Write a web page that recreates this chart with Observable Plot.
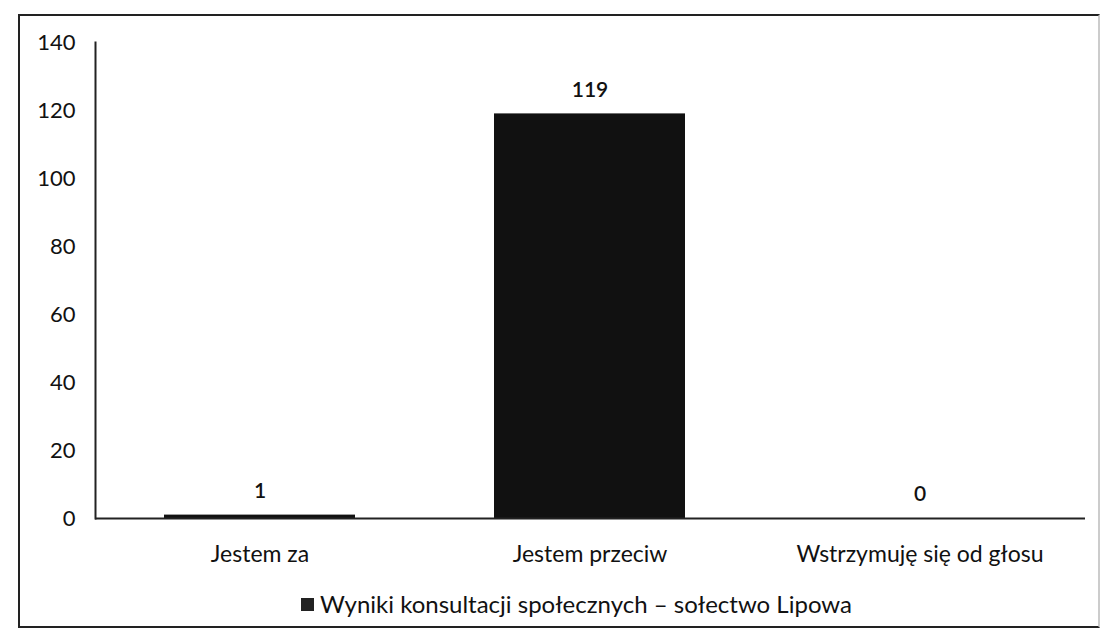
<!DOCTYPE html>
<html>
<head>
<meta charset="utf-8">
<script src="https://cdn.jsdelivr.net/npm/d3@7"></script>
<script src="https://cdn.jsdelivr.net/npm/@observablehq/plot@0.6"></script>
<style>
  html, body { margin: 0; padding: 0; background: #fff; }
  #wrap { position: relative; width: 1103px; height: 641px; font-family: Lato, "Open Sans", sans-serif; color: #111; }
  #box { position: absolute; left: 18px; top: 14px; width: 1082px; height: 614px; border: 2px solid #222; border-right-color: #ccc; box-sizing: border-box; }
  #chart { position: absolute; left: 0; top: 0; }
  #legend { position: absolute; left: 0; width: 1103px; top: 589px; text-align: center; font-size: 24px; padding-left: 50px; box-sizing: border-box; }
  #legend .sw { display: inline-block; width: 13px; height: 13px; background: #222; margin-right: 6px; vertical-align: 2px; }
</style>
</head>
<body>
<div id="wrap">
  <div id="box"></div>
  <div id="chart"></div>
  <div id="legend"><span class="sw"></span>Wyniki konsultacji społecznych – sołectwo Lipowa</div>
</div>
<script>
const categories = ["Jestem za", "Jestem przeciw", "Wstrzymuję się od głosu"];
const values = [1, 119, 0];
const yTicks = [0, 20, 40, 60, 80, 100, 120, 140];

const data = categories.map((c, i) => ({category: c, value: values[i]}));

const chart = Plot.plot({
  width: 1103,
  height: 585,
  marginLeft: 95,
  marginRight: 18,
  marginTop: 42,
  marginBottom: 67,
  style: {fontFamily: "Lato, 'Open Sans', sans-serif", fontSize: "22px", color: "#111", background: "transparent"},
  x: {domain: categories, paddingInner: 0.42, paddingOuter: 0.21, label: null},
  y: {domain: [0, 140], ticks: yTicks, label: null},
  marks: [
    Plot.frame({anchor: "left", stroke: "#222", strokeWidth: 2}),
    Plot.barY(data, {x: "category", y: "value", fill: "#111"}),
    Plot.ruleY([0], {stroke: "#222", strokeWidth: 2}),
    Plot.text(data, {x: "category", y: "value", text: d => String(d.value), dy: -24, fontSize: 21, fontWeight: 600, fill: "#111"}),
    Plot.axisY({ticks: yTicks, tickSize: 0, tickPadding: 20, fontSize: 22, label: null}),
    Plot.axisX({tickSize: 0, tickPadding: 27, fontSize: 23, label: null})
  ]
});
document.getElementById("chart").appendChild(chart);
</script>
</body>
</html>
